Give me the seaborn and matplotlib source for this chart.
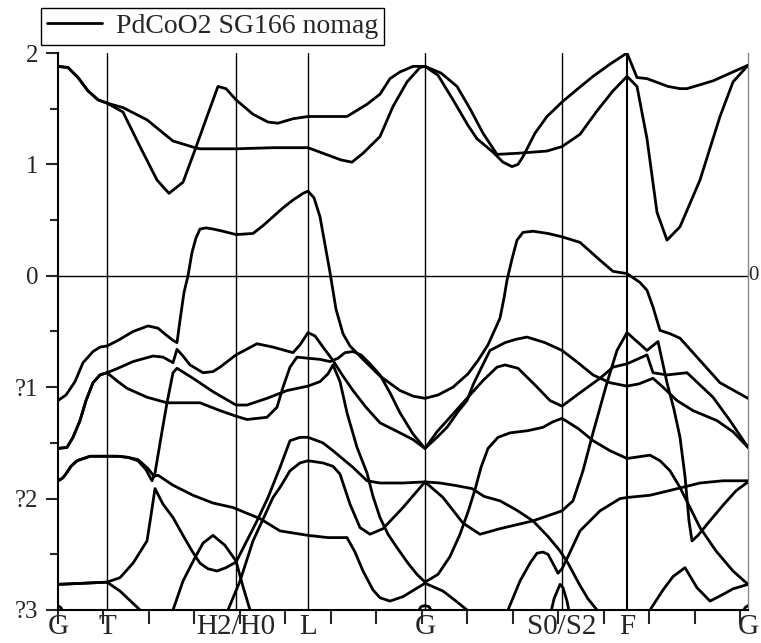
import numpy as np
import pandas as pd
import matplotlib
matplotlib.use("Agg")
import matplotlib.pyplot as plt
import seaborn as sns
from matplotlib.ticker import MultipleLocator
from matplotlib.lines import Line2D

# high-symmetry points along the k-path
kpoint_pos = [0, 49, 178, 250, 367, 504, 569, 690]
kpoint_labels = ["G", "T", "H2/H0", "L", "G", "S0/S2", "F", "G"]

ytick_vals = [-3, -2, -1, 0, 1, 2]
ytick_labels = ["?3", "?2", "?1", "0", "1", "2"]

legend_label = "PdCoO2 SG166 nomag"

# bands: (k, energy in eV)
band_top_a = [(0, 1.88), (10, 1.87), (20, 1.78), (30, 1.66), (40, 1.58), (49, 1.55),
              (65, 1.47), (82, 1.16), (99, 0.86), (111, 0.74), (125, 0.84), (137, 1.13), (149, 1.43),
              (160, 1.70), (168, 1.68), (178, 1.58),
              (195, 1.45), (210, 1.38), (220, 1.37), (235, 1.41), (250, 1.43),
              (270, 1.43), (289, 1.43), (309, 1.54), (322, 1.63), (332, 1.77), (342, 1.83), (355, 1.88), (367, 1.88),
              (383, 1.82), (399, 1.70), (412, 1.50), (425, 1.28), (439, 1.09), (460, 1.10), (489, 1.12), (504, 1.16),
              (522, 1.27), (539, 1.48), (555, 1.66), (569, 1.79),
              (579, 1.70), (589, 1.23), (599, 0.57), (609, 0.32), (622, 0.44), (642, 0.86), (662, 1.43),
              (675, 1.74), (690, 1.89)]

band_top_b = [(0, 1.88), (10, 1.87), (20, 1.78), (30, 1.66), (40, 1.58), (49, 1.55),
              (65, 1.51), (89, 1.40), (115, 1.21), (137, 1.15), (142, 1.14), (178, 1.14),
              (215, 1.15), (250, 1.15),
              (265, 1.10), (283, 1.04), (294, 1.02), (305, 1.10), (322, 1.25), (335, 1.52), (349, 1.74),
              (362, 1.87), (367, 1.88),
              (380, 1.80), (395, 1.58), (410, 1.35), (419, 1.23), (435, 1.11), (445, 1.02), (454, 0.98),
              (460, 1.00), (465, 1.07), (477, 1.28), (489, 1.43), (504, 1.56),
              (520, 1.68), (535, 1.79), (552, 1.90), (569, 2.00),
              (579, 1.78), (589, 1.77), (610, 1.70), (622, 1.68), (629, 1.68), (655, 1.75), (675, 1.83), (690, 1.89)]

band_fermi = [(0, -1.12), (8, -1.07), (17, -0.95), (25, -0.78), (35, -0.68), (42, -0.64), (49, -0.63),
              (60, -0.58), (75, -0.50), (90, -0.45), (100, -0.47), (108, -0.53), (115, -0.58), (119, -0.60),
              (122, -0.40), (126, -0.15), (130, 0.0), (134, 0.21), (138, 0.34), (142, 0.42), (148, 0.43),
              (155, 0.42), (165, 0.40), (178, 0.37),
              (195, 0.38), (205, 0.45), (215, 0.53), (225, 0.61), (235, 0.68), (245, 0.74), (250, 0.76),
              (256, 0.70), (262, 0.53), (267, 0.28), (272, 0.03), (278, -0.30), (285, -0.52), (292, -0.63),
              (305, -0.75), (322, -0.90), (342, -1.03), (355, -1.08), (367, -1.10),
              (380, -1.07), (395, -1.00), (410, -0.88), (420, -0.76), (430, -0.62), (436, -0.50), (442, -0.38),
              (446, -0.20), (449, -0.04), (454, 0.15), (459, 0.32), (465, 0.39), (475, 0.40), (490, 0.38), (504, 0.35),
              (522, 0.30), (542, 0.14), (555, 0.04), (569, 0.02),
              (582, -0.06), (589, -0.13), (595, -0.28), (602, -0.49), (612, -0.52), (622, -0.56), (642, -0.76),
              (662, -0.96), (690, -1.10)]

band_mid_a = [(0, -1.55), (9, -1.54), (15, -1.45), (22, -1.30), (28, -1.12), (35, -0.96), (42, -0.89), (49, -0.87),
              (60, -0.83), (75, -0.77), (95, -0.72), (105, -0.73), (115, -0.78), (119, -0.66), (125, -0.72),
              (132, -0.80), (145, -0.87), (155, -0.86), (162, -0.82), (178, -0.71),
              (199, -0.61), (215, -0.64), (235, -0.69), (242, -0.62), (250, -0.51),
              (257, -0.54), (265, -0.64), (275, -0.76), (285, -0.90), (295, -1.03), (308, -1.18), (322, -1.32),
              (342, -1.41), (355, -1.47), (367, -1.55),
              (379, -1.45), (389, -1.36), (400, -1.22), (409, -1.12), (415, -0.98), (422, -0.85), (432, -0.67),
              (447, -0.60), (458, -0.57), (469, -0.55), (487, -0.60), (504, -0.67),
              (520, -0.78), (535, -0.89), (552, -0.96), (569, -0.99),
              (581, -0.97), (595, -0.92), (605, -1.00), (619, -1.12), (635, -1.21), (659, -1.30), (675, -1.40),
              (690, -1.54)]

band_mid_b = [(0, -1.55), (9, -1.54), (15, -1.45), (22, -1.30), (28, -1.12), (35, -0.96), (42, -0.89), (49, -0.87),
              (60, -0.95), (69, -1.01), (89, -1.09), (109, -1.14), (142, -1.14), (162, -1.21), (178, -1.26),
              (189, -1.29), (209, -1.27), (219, -1.18), (225, -1.00), (232, -0.82), (239, -0.73), (250, -0.74),
              (262, -0.75), (272, -0.77), (280, -0.74), (287, -0.69), (295, -0.68), (303, -0.71), (312, -0.79),
              (322, -0.89), (332, -1.05), (342, -1.23), (355, -1.42), (367, -1.55),
              (379, -1.40), (389, -1.30), (409, -1.10), (425, -0.94), (439, -0.82), (447, -0.80), (460, -0.83),
              (477, -0.98), (492, -1.12), (504, -1.17),
              (522, -1.05), (542, -0.92), (555, -0.82), (569, -0.79),
              (589, -0.71), (595, -0.87), (609, -0.89), (629, -0.87), (655, -1.09), (672, -1.30), (690, -1.54)]

band_low_a = [(0, -1.84), (4, -1.82), (7, -1.79), (13, -1.71), (19, -1.66), (32, -1.62), (49, -1.62),
              (60, -1.62), (70, -1.63), (80, -1.66), (88, -1.74), (94, -1.84), (97, -1.77), (103, -1.45),
              (109, -1.14), (115, -0.87), (119, -0.83), (135, -0.92), (155, -1.04), (178, -1.16),
              (189, -1.16), (209, -1.10), (229, -1.03), (250, -0.99),
              (262, -0.95), (270, -0.88), (275, -0.80), (282, -0.95), (289, -1.23), (299, -1.54), (309, -1.77),
              (315, -1.98), (322, -2.17), (330, -2.32), (339, -2.44), (350, -2.58), (359, -2.68), (367, -2.75),
              (380, -2.68), (392, -2.52), (402, -2.32), (410, -2.12), (417, -1.92), (423, -1.72), (430, -1.55),
              (440, -1.45), (452, -1.41), (470, -1.39), (485, -1.36), (495, -1.31), (504, -1.28),
              (520, -1.37), (535, -1.48), (552, -1.57), (569, -1.64),
              (592, -1.61), (602, -1.66), (612, -1.75), (622, -1.90), (632, -2.08), (642, -2.26), (658, -2.47),
              (675, -2.65), (690, -2.77)]

band_low_b = [(0, -1.84), (4, -1.82), (7, -1.79), (13, -1.71), (19, -1.66), (32, -1.62), (49, -1.62),
              (60, -1.62), (70, -1.63), (80, -1.65), (90, -1.73), (96, -1.80), (100, -1.79), (115, -1.88),
              (135, -1.97), (155, -2.04), (175, -2.08),
              (202, -2.18), (222, -2.29), (250, -2.33),
              (270, -2.35), (289, -2.35), (297, -2.48), (305, -2.65), (315, -2.82), (322, -2.89), (332, -2.92),
              (345, -2.88), (367, -2.76),
              (385, -2.83), (398, -2.92), (409, -3.0), (418, -3.1)]

band_deep_a = [(0, -2.77), (25, -2.76), (49, -2.75),
               (62, -2.71), (75, -2.58), (89, -2.38), (93, -2.15), (97, -1.91), (105, -2.05), (115, -2.17),
               (125, -2.33), (134, -2.47), (142, -2.58), (150, -2.63), (159, -2.65), (168, -2.62), (178, -2.57),
               (199, -2.20), (210, -1.99), (222, -1.72), (232, -1.48), (242, -1.45), (250, -1.45),
               (265, -1.50), (275, -1.57), (295, -1.72), (309, -1.84), (322, -1.86), (345, -1.86), (367, -1.85),
               (382, -1.86), (396, -1.88), (414, -1.91), (426, -1.98), (442, -2.02), (458, -2.10), (475, -2.20),
               (490, -2.34), (502, -2.47), (510, -2.58), (522, -2.78), (530, -2.90), (539, -3.0), (545, -3.1)]

band_deep_b = [(0, -2.77), (25, -2.76), (49, -2.75), (62, -2.83), (75, -2.94), (82, -3.0), (88, -3.1)]

band_deep_c = [(110, -3.1), (115, -3.0), (125, -2.74), (137, -2.53), (145, -2.40), (155, -2.33), (167, -2.42),
               (178, -2.56), (185, -2.79), (192, -3.0), (197, -3.1)]

band_deep_d = [(165, -3.1), (170, -3.0), (182, -2.74), (195, -2.38), (215, -1.99), (222, -1.90), (232, -1.75),
               (242, -1.68), (250, -1.66),
               (265, -1.68), (275, -1.71), (282, -1.78), (292, -2.05), (302, -2.26), (312, -2.32), (325, -2.27),
               (345, -2.08), (367, -1.85),
               (385, -1.99), (405, -2.22), (422, -2.32), (442, -2.27), (475, -2.20), (504, -2.11), (515, -2.02),
               (525, -1.75), (535, -1.41), (549, -0.96), (559, -0.67), (569, -0.51),
               (589, -0.67), (600, -0.59), (609, -0.96), (616, -1.20), (622, -1.45), (627, -1.80), (631, -2.20),
               (634, -2.38), (640, -2.33), (650, -2.22), (665, -2.06), (678, -1.93), (690, -1.85)]

band_deep_e = [(446, -3.1), (450, -3.0), (462, -2.74), (472, -2.58), (479, -2.49), (485, -2.48), (490, -2.50),
               (496, -2.60), (500, -2.67), (504, -2.63), (510, -2.52), (522, -2.29), (542, -2.11), (562, -2.00),
               (569, -1.99), (592, -1.97), (615, -1.92), (642, -1.86), (665, -1.84), (690, -1.84)]

band_spike = [(491, -3.1), (496, -2.90), (502, -2.77), (505, -2.80), (509, -2.92), (513, -3.1)]

band_bottom = [(588, -3.05), (592, -3.0), (605, -2.82), (615, -2.70), (627, -2.62), (639, -2.80), (652, -2.92),
               (665, -2.86), (675, -2.81), (690, -2.77)]

dome_left = [(0, -2.96), (3, -2.98), (7, -3.05)]
dome_mid = [(359, -3.03), (363, -2.97), (367, -2.96), (371, -2.97), (375, -3.03)]
dome_right = [(683, -3.05), (687, -2.98), (690, -2.96)]

all_bands = [band_top_a, band_top_b, band_fermi, band_mid_a, band_mid_b, band_low_a, band_low_b,
             band_deep_a, band_deep_b, band_deep_c, band_deep_d, band_deep_e, band_spike, band_bottom,
             dome_left, dome_mid, dome_right]

rows = []
for i, b in enumerate(all_bands):
    for k, e in b:
        rows.append({"band": i, "k": k, "E": e})
df = pd.DataFrame(rows)

sns.set_style("ticks")
plt.rcParams["font.family"] = ["Liberation Serif", "DejaVu Serif"]

fig = plt.figure(figsize=(7.61, 6.43), dpi=100)
ax = fig.add_axes([58 / 761, 1 - 610 / 643, 690 / 761, 557 / 643])

# grid lines at the high-symmetry points and at E = 0
for kp in kpoint_pos[1:-1]:
    ax.axvline(kp, color="black", lw=1.5 if kp == 569 else 1.0, zorder=1)
ax.axhline(0, color="black", lw=1.0, zorder=1)

sns.lineplot(data=df, x="k", y="E", units="band", estimator=None, sort=False,
             color="black", lw=2.0, ax=ax, legend=False, zorder=3)

ax.set_xlim(0, 690)
ax.set_ylim(-3, 2)
ax.set_xlabel("")
ax.set_ylabel("")

ax.set_yticks(ytick_vals)
ax.set_yticklabels(ytick_labels)
ax.yaxis.set_minor_locator(MultipleLocator(0.5))
ax.tick_params(axis="y", which="major", length=9, width=1.5, direction="out", labelsize=18, pad=5)
ax.tick_params(axis="y", which="minor", length=6, width=1.5, direction="out")

ax.set_xticks(kpoint_pos)
ax.set_xticklabels(kpoint_labels)
ax.xaxis.remove_overlapping_locs = False
ax.set_xticks(np.arange(0, 690, 45.47), minor=True)
ax.tick_params(axis="x", which="major", length=0, labelsize=21, pad=3)
ax.tick_params(axis="x", which="minor", length=10, width=1.5, direction="out")

ax.spines["top"].set_visible(False)
ax.spines["right"].set_color("#888888")
ax.spines["right"].set_linewidth(1.0)
ax.spines["left"].set_linewidth(1.5)
ax.spines["bottom"].set_linewidth(1.5)
ax.spines["left"].set_color("black")
ax.spines["bottom"].set_color("black")

ax.text(1.001, 0, "0", transform=ax.get_yaxis_transform(), ha="left", va="center", fontsize=15)

handle = Line2D([0], [0], color="black", lw=2.0)
leg = fig.legend(handles=[handle], labels=[legend_label], loc="upper left",
                 bbox_to_anchor=(41 / 761, 1 - 8 / 643), fancybox=False, framealpha=1,
                 edgecolor="black", prop={"family": "Liberation Serif", "size": 20},
                 handlelength=2.0, handletextpad=0.5, borderpad=0.2, borderaxespad=0)
leg.get_frame().set_linewidth(1.0)

fig.savefig("out.png", dpi=100)
